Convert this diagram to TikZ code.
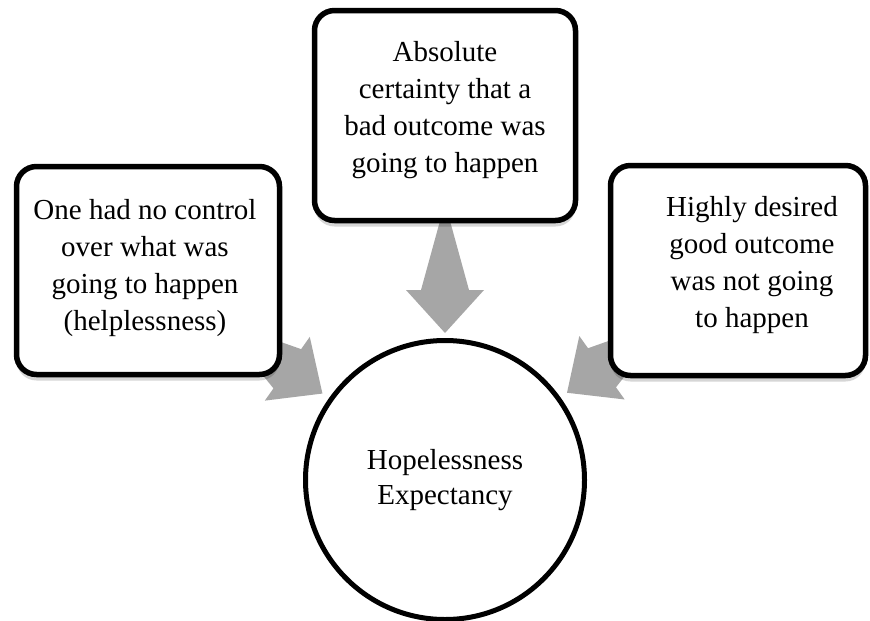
\documentclass[tikz,border=0pt]{standalone}
\usepackage{fontspec}
\setmainfont{Liberation Serif}
\usetikzlibrary{calc,shadows}
\definecolor{arrowgray}{HTML}{A6A6A6}
\tikzset{
  causebox/.style={draw=black, line width=5.5pt, fill=white, rounded corners=20pt,
    inner sep=0pt,
    drop shadow={shadow xshift=0pt, shadow yshift=-6pt, opacity=0.16, fill=black}},
  boxtext/.style={align=center, inner sep=0pt,
    font=\fontsize{29}{37}\selectfont},
  hopecircle/.style={draw=black, line width=5pt, fill=white, circle,
    minimum size=279pt, inner sep=0pt, align=center,
    font=\fontsize{29}{35}\selectfont},
  blockarrow/.style={fill=arrowgray, draw=none},
}
% block arrow from a box centre (#1) to a tip coordinate (#2)
\newcommand{\blockarrow}[2]{%
  \fill[blockarrow]
    ($(#1)!24pt!90:(#2)$) --
    ($($(#2)!43pt!(#1)$)!24pt!-90:(#2)$) --
    ($($(#2)!43pt!(#1)$)!39pt!-90:(#2)$) --
    (#2) --
    ($($(#2)!43pt!(#1)$)!39pt!90:(#2)$) --
    ($($(#2)!43pt!(#1)$)!24pt!90:(#2)$) --
    ($(#1)!24pt!-90:(#2)$) -- cycle;}
\begin{document}
\begin{tikzpicture}[x=1pt, y=-1pt]
  \useasboundingbox[fill=white] (0,0) rectangle (870,621);

  % positions of the shapes
  \coordinate (hc) at (445,480);
  \coordinate (lc) at (148,270.5);
  \coordinate (tc) at (445,115.5);
  \coordinate (rc) at (738,270.5);

  % arrow tips just outside the circle
  \coordinate (ltip) at ($(hc)!150pt!(lc)$);
  \coordinate (ttip) at ($(hc)!147pt!(tc)$);
  \coordinate (rtip) at ($(hc)!150pt!(rc)$);

  % grey block arrows, drawn behind the boxes
  \blockarrow{lc}{ltip}
  \blockarrow{tc}{ttip}
  \blockarrow{rc}{rtip}

  % the three cause boxes
  \node[causebox, minimum width=263pt, minimum height=208pt] (left) at (lc) {};
  \node[causebox, minimum width=261pt, minimum height=210pt] (top) at (tc) {};
  \node[causebox, minimum width=255pt, minimum height=210pt] (right) at (rc) {};

  \node[boxtext] (lefttext) at (145,268)
    {One had no control\\over what was\\going to happen\\(helplessness)};
  \node[boxtext] (toptext) at (445,110)
    {Absolute\\certainty that a\\bad outcome was\\going to happen};
  \node[boxtext] (righttext) at (752,265)
    {Highly desired\\good outcome\\was not going\\to happen};

  % the outcome circle
  \node[hopecircle] (hope) at (hc) {Hopelessness\\Expectancy};
\end{tikzpicture}
\end{document}
